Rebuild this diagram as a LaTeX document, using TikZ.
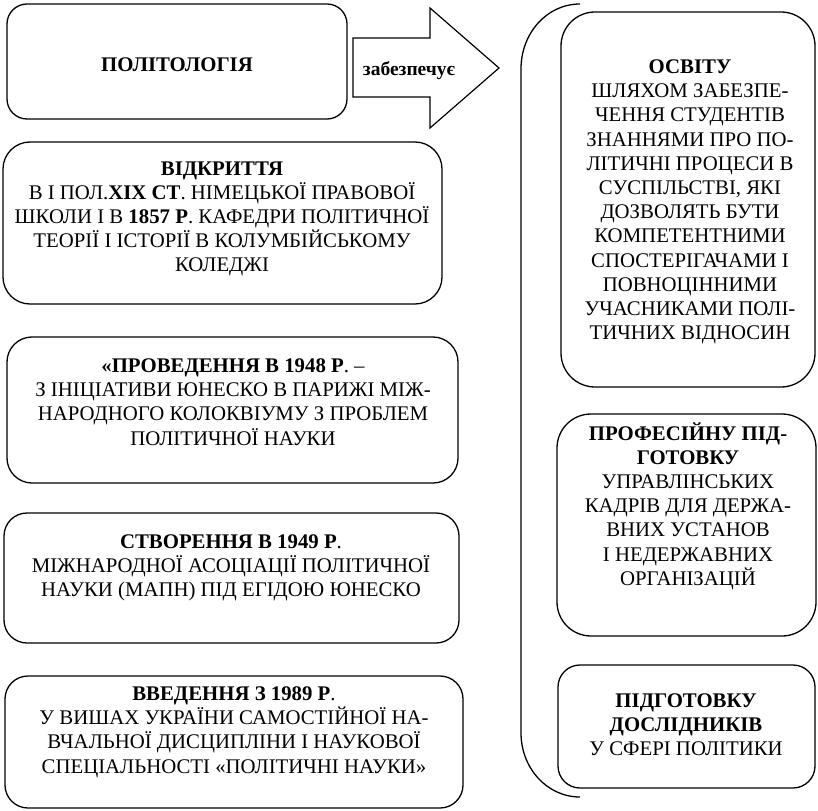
\documentclass[tikz,border=0pt]{standalone}
\usepackage{fontspec}
\setmainfont{Liberation Serif}
\begin{document}
\begin{tikzpicture}[x=1pt,y=-1pt,
  boxline/.style={draw=black,line width=1.3pt},
  txt/.style={align=center,inner sep=0pt,font=\fontsize{20.8}{24.2}\selectfont}]
\useasboundingbox (0,0) rectangle (818,810);
% left boxes
\draw[boxline,rounded corners=20pt] (7,4) rectangle (347,119) coordinate (b1);
\node[txt] (t1) at (177,65) {\textbf{ПОЛІТОЛОГІЯ}};
\draw[boxline,rounded corners=27pt] (3,142) rectangle (442,304);
\node[txt] (t2) at (222,219) {\textbf{ВІДКРИТТЯ}\\В І ПОЛ.\textbf{XIX СТ}. НІМЕЦЬКОЇ ПРАВОВОЇ\\ШКОЛИ І В \textbf{1857 Р}. КАФЕДРИ ПОЛІТИЧНОЇ\\ТЕОРІЇ І ІСТОРІЇ В КОЛУМБІЙСЬКОМУ\\КОЛЕДЖІ};
\draw[boxline,rounded corners=25pt] (7,337) rectangle (458,483);
\node[txt] (t3) at (233,402) {\textbf{«ПРОВЕДЕННЯ В 1948 Р}. –\\З ІНІЦІАТИВИ ЮНЕСКО В ПАРИЖІ МІЖ-\\НАРОДНОГО КОЛОКВІУМУ З ПРОБЛЕМ\\ПОЛІТИЧНОЇ НАУКИ};
\draw[boxline,rounded corners=23pt] (4,513) rectangle (459,643);
\node[txt] (t4) at (231,568) {\textbf{СТВОРЕННЯ В 1949 Р}.\\МІЖНАРОДНОЇ АСОЦІАЦІЇ ПОЛІТИЧНОЇ\\НАУКИ (МАПН) ПІД ЕГІДОЮ ЮНЕСКО};
\draw[boxline,rounded corners=23pt] (5,676) rectangle (463,808);
\node[txt] (t5) at (234,732) {\textbf{ВВЕДЕННЯ З 1989 Р}.\\У ВИШАХ УКРАЇНИ САМОСТІЙНОЇ НА-\\ВЧАЛЬНОЇ ДИСЦИПЛІНИ І НАУКОВОЇ\\СПЕЦІАЛЬНОСТІ «ПОЛІТИЧНІ НАУКИ»};
% block arrow
\draw[line width=1.2pt,line join=miter] (353,38) -- (430,38) -- (430,8) -- (499,68) -- (430,128) -- (430,97) -- (353,97) -- cycle;
\node[txt,font=\fontsize{19.5}{22}\selectfont] (ta) at (409,71) {\textbf{забезпечує}};
% brace
\draw[line width=1.3pt] (580,4) .. controls (547,4) and (521,33) .. (521,69) -- (521,733) .. controls (521,768) and (547,797) .. (580,797);
% right boxes
\draw[boxline,rounded corners=34pt] (561,12) rectangle (815,387);
\node[txt] (t6) at (690,202) {\textbf{ОСВІТУ}\\ШЛЯХОМ ЗАБЕЗПЕ-\\ЧЕННЯ СТУДЕНТІВ\\ЗНАННЯМИ ПРО ПО-\\ЛІТИЧНІ ПРОЦЕСИ В\\СУСПІЛЬСТВІ, ЯКІ\\ДОЗВОЛЯТЬ БУТИ\\КОМПЕТЕНТНИМИ\\СПОСТЕРІГАЧАМИ І\\ПОВНОЦІННИМИ\\УЧАСНИКАМИ ПОЛІ-\\ТИЧНИХ ВІДНОСИН};
\draw[boxline,rounded corners=34pt] (557,414) rectangle (816,636);
\node[txt] (t7) at (688,506) {\textbf{ПРОФЕСІЙНУ ПІД-}\\\textbf{ГОТОВКУ}\\УПРАВЛІНСЬКИХ\\КАДРІВ ДЛЯ ДЕРЖА-\\ВНИХ УСТАНОВ\\І НЕДЕРЖАВНИХ\\ОРГАНІЗАЦІЙ};
\draw[boxline,rounded corners=22pt] (558,665) rectangle (815,788);
\node[txt] (t8) at (686,725) {\textbf{ПІДГОТОВКУ}\\\textbf{ДОСЛІДНИКІВ}\\У СФЕРІ ПОЛІТИКИ};
\end{tikzpicture}
\end{document}
